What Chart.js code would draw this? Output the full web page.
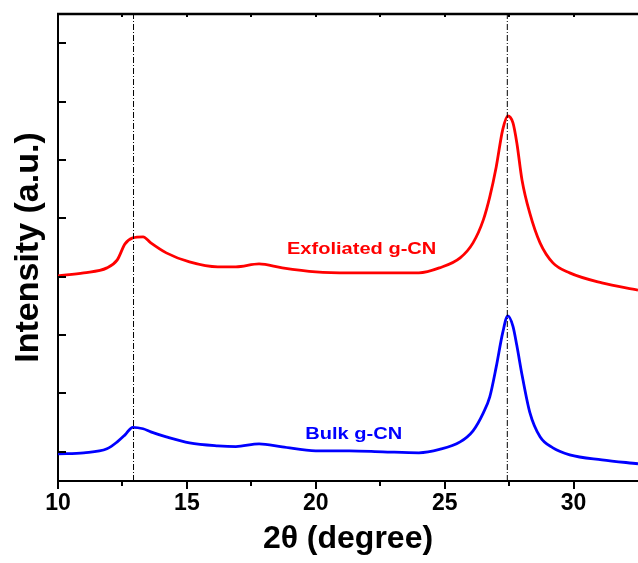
<!DOCTYPE html>
<html>
<head>
<meta charset="utf-8">
<script src="https://cdn.jsdelivr.net/npm/chart.js@4.4.1/dist/chart.umd.min.js"></script>
<style>
  html, body { margin: 0; padding: 0; background: #fff; }
  #wrap { width: 638px; height: 563px; }
</style>
</head>
<body>
<div id="wrap"><canvas id="xrd" width="638" height="563"></canvas></div>
<script>
// 2theta positions (degree)
const TWO_THETA = [10, 11, 11.9, 12.3, 12.6, 12.9, 13.3, 13.6, 14.2, 15.1, 16.2, 16.9, 17.8, 18.7,
  20, 21.3, 22.6, 24, 24.8, 25.6, 26.1, 26.5, 26.75, 27, 27.25, 27.45, 27.65, 27.8, 28, 28.3,
  28.7, 29.2, 29.85, 31.1, 32.5];
// intensities (a.u., stacked), estimated
const EXFOLIATED = [3014, 3065, 3151, 3288, 3562, 3664, 3682, 3579, 3408, 3253, 3168, 3168, 3219, 3151,
  3082, 3065, 3065, 3065, 3151, 3322, 3579, 3973, 4366, 4880, 5514, 5753, 5634, 5291, 4658, 4092,
  3579, 3236, 3065, 2894, 2770];
const BULK = [-34, -17, 51, 171, 290, 420, 395, 342, 257, 154, 103, 90, 137, 86,
  17, 17, 0, -17, 40, 170, 360, 668, 942, 1455, 2038, 2330, 2150, 1820, 1320, 680,
  257, 68, -51, -137, -205];

const X_TICKS = [10, 15, 20, 25, 30];
const X_MINOR_TICKS = [12.5, 17.5, 22.5, 27.5];
const X_TOP_TICKS = [12.5, 15, 17.5, 20, 22.5, 25, 27.5, 30];
const Y_TICKS = [0, 1000, 2000, 3000, 4000, 5000, 6000, 7000];
const PEAK_LINES = [12.93, 27.43];
const X_MIN = 10;
const X_MAX = 32.5;
const Y_MIN = -500;
const Y_MAX = 7500;

const RED = "#FF0000";
const BLUE = "#0000FF";
const FONT = "'Liberation Sans', Arial, sans-serif";

const curveLabels = [
  { text: "Exfoliated g-CN", color: RED, x: 21.78, y: 3476 },
  { text: "Bulk g-CN", color: BLUE, x: 21.47, y: 308 }
];

function peakLine(x) {
  return {
    data: [{ x: x, y: Y_MIN }, { x: x, y: Y_MAX }],
    borderColor: "#000",
    borderWidth: 1,
    borderDash: [6, 2, 1, 2],
    pointRadius: 0,
    order: 0
  };
}

function curve(values, color) {
  return {
    data: TWO_THETA.map((t, i) => ({ x: t, y: values[i] })),
    borderColor: color,
    borderWidth: 2.8,
    pointRadius: 0,
    cubicInterpolationMode: "monotone",
    order: 1
  };
}

const framePlugin = {
  id: "frame",
  afterDatasetsDraw(chart) {
    const { ctx, scales: { x, y } } = chart;
    ctx.save();
    ctx.font = `bold 17px ${FONT}`;
    ctx.textAlign = "center";
    ctx.textBaseline = "middle";
    curveLabels.forEach((l) => {
      ctx.save();
      ctx.fillStyle = l.color;
      ctx.translate(x.getPixelForValue(l.x), y.getPixelForValue(l.y));
      ctx.scale(1.18, 1);
      ctx.fillText(l.text, 0, 0);
      ctx.restore();
    });
    ctx.restore();
  },
  afterDraw(chart) {
    const { ctx, chartArea: a, scales: { x, y } } = chart;
    ctx.save();
    ctx.strokeStyle = "#000";
    ctx.lineWidth = 2.5;
    ctx.beginPath();
    ctx.moveTo(a.left - 1, a.top);
    ctx.lineTo(a.right, a.top);
    ctx.stroke();

    ctx.lineWidth = 2;
    ctx.beginPath();
    Y_TICKS.forEach((v) => {
      const py = Math.round(y.getPixelForValue(v));
      ctx.moveTo(a.left, py);
      ctx.lineTo(a.left + 8, py);
    });
    X_MINOR_TICKS.forEach((v) => {
      const px = Math.round(x.getPixelForValue(v));
      ctx.moveTo(px, a.bottom);
      ctx.lineTo(px, a.bottom + 5);
    });
    X_TOP_TICKS.forEach((v) => {
      const px = Math.round(x.getPixelForValue(v));
      ctx.moveTo(px, a.top);
      ctx.lineTo(px, a.top + 3);
    });
    ctx.stroke();
    ctx.restore();
  }
};

new Chart(document.getElementById("xrd"), {
  type: "line",
  data: {
    datasets: [
      peakLine(PEAK_LINES[0]),
      peakLine(PEAK_LINES[1]),
      curve(EXFOLIATED, RED),
      curve(BULK, BLUE)
    ]
  },
  options: {
    responsive: false,
    animation: false,
    layout: { padding: { top: 14, right: 0, left: 0, bottom: 0 } },
    plugins: { legend: { display: false }, tooltip: { enabled: false } },
    scales: {
      x: {
        type: "linear",
        min: X_MIN,
        max: X_MAX,
        afterBuildTicks(scale) {
          scale.ticks = X_TICKS.map((v) => ({ value: v }));
        },
        afterFit(scale) {
          scale.height = 82;
        },
        grid: {
          display: true,
          drawOnChartArea: false,
          drawTicks: true,
          tickLength: 8,
          color: "#000",
          lineWidth: 2
        },
        border: { display: true, color: "#000", width: 2 },
        ticks: {
          color: "#000",
          padding: 1,
          maxRotation: 0,
          font: { family: FONT, size: 23, weight: "bold" }
        },
        title: {
          display: true,
          text: "2θ (degree)",
          color: "#000",
          padding: { top: 0, bottom: 5 },
          font: { family: FONT, size: 32, weight: "bold" }
        }
      },
      y: {
        type: "linear",
        min: Y_MIN,
        max: Y_MAX,
        afterBuildTicks(scale) {
          scale.ticks = Y_TICKS.map((v) => ({ value: v }));
        },
        afterFit(scale) {
          scale.width = 58;
        },
        grid: { display: false },
        border: { display: true, color: "#000", width: 2 },
        ticks: { display: false },
        title: {
          display: true,
          text: "Intensity (a.u.)",
          color: "#000",
          padding: { top: 8, bottom: 0 },
          font: { family: FONT, size: 34, weight: "bold" }
        }
      }
    }
  },
  plugins: [framePlugin]
});
</script>
</body>
</html>
